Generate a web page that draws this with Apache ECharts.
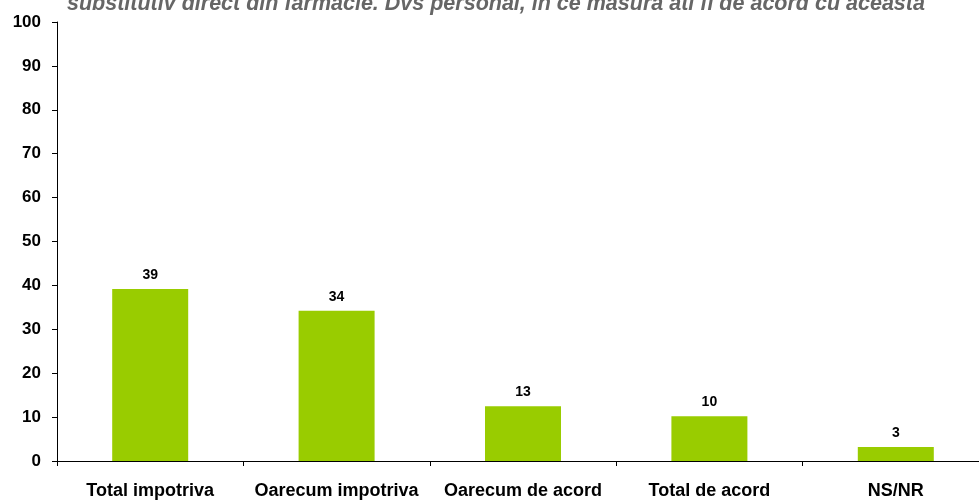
<!DOCTYPE html>
<html><head><meta charset="utf-8">
<script src="https://cdn.jsdelivr.net/npm/echarts@6/dist/echarts.min.js"></script>
<style>html,body{margin:0;padding:0;background:#fff;overflow:hidden}#c{width:989px;height:500px}</style>
</head><body><div id="c"></div>
<script>
var titleText = "substitutiv direct din farmacie. Dvs personal, in ce masura ati fi de acord cu aceasta";
var categories = ["Total impotriva", "Oarecum impotriva", "Oarecum de acord", "Total de acord", "NS/NR"];
var values = [39.2, 34.2, 12.5, 10.2, 3.2];
var labels = ["39", "34", "13", "10", "3"];
var yMin = 0, yMax = 100, yStep = 10;

var chart = echarts.init(document.getElementById('c'), null, {renderer: 'canvas'});
chart.setOption({
  animation: false,
  backgroundColor: '#fff',
  title: {
    text: titleText, left: 67, top: -7, padding: 0,
    textStyle: {fontFamily: 'Liberation Sans, Arial', fontSize: 21.5, fontWeight: 'bold', fontStyle: 'italic', color: '#666'}
  },
  grid: {left: 57, top: 22, right: 0, bottom: 37, containLabel: false},
  xAxis: {
    type: 'category', data: categories,
    axisLine: {lineStyle: {color: '#000', width: 1}},
    axisTick: {show: true, length: 5, lineStyle: {color: '#000'}},
    axisLabel: {margin: 21, color: '#000', fontFamily: 'Liberation Sans, Arial', fontSize: 18, fontWeight: 'bold', interval: 0}
  },
  yAxis: {
    type: 'value', min: yMin, max: yMax, interval: yStep,
    splitLine: {show: false},
    axisLine: {show: true, lineStyle: {color: '#000', width: 1}},
    axisTick: {show: true, length: 5, lineStyle: {color: '#000'}},
    axisLabel: {margin: 16, color: '#000', fontFamily: 'Liberation Sans, Arial', fontSize: 17, fontWeight: 'bold'}
  },
  series: [{
    type: 'bar', data: values, barWidth: 76,
    itemStyle: {color: '#99cc00'},
    label: {
      show: true, position: 'top', distance: 7,
      formatter: function (p) { return labels[p.dataIndex]; },
      color: '#000', fontFamily: 'Liberation Sans, Arial', fontSize: 14, fontWeight: 'bold'
    }
  }]
});
</script></body></html>
